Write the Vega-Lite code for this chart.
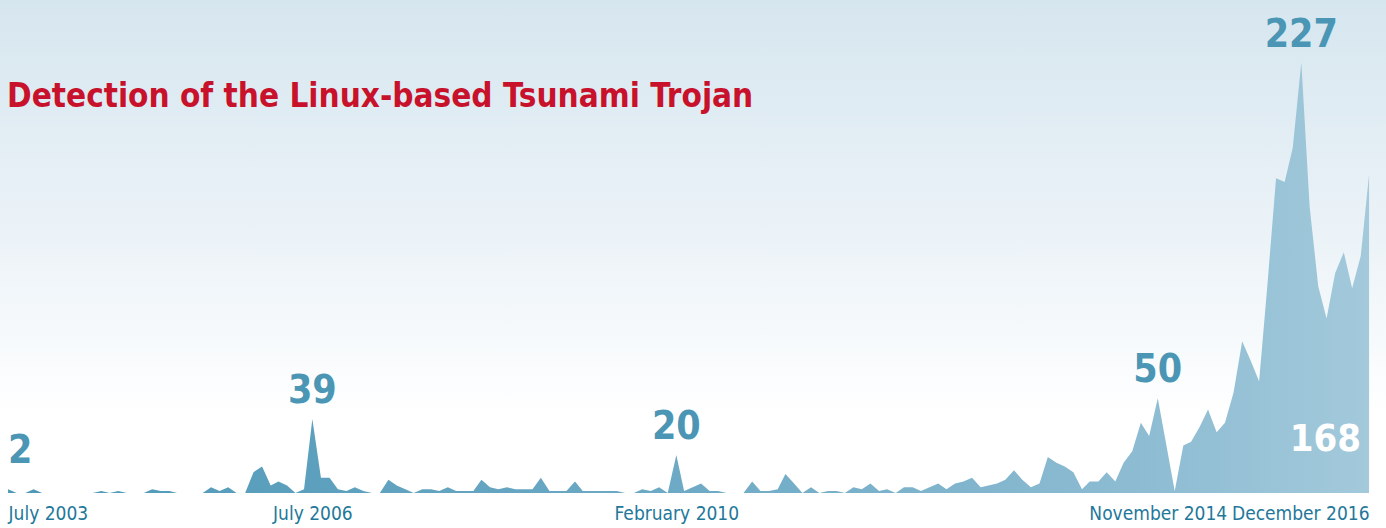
{
  "$schema": "https://vega.github.io/schema/vega-lite/v6.json",
  "width": 1386,
  "height": 493,
  "autosize": {"type": "none"},
  "padding": {"left": 0, "right": 0, "top": 0, "bottom": 35},
  "background": "#ffffff",
  "config": {
    "view": {"stroke": null},
    "font": "DejaVu Sans Condensed, sans-serif"
  },
  "title": {
    "text": "Detection of the Linux-based Tsunami Trojan",
    "anchor": "start",
    "frame": "group",
    "orient": "top",
    "offset": 0,
    "dx": 7,
    "dy": 140,
    "baseline": "alphabetic",
    "font": "DejaVu Sans Condensed, sans-serif",
    "fontWeight": "bold",
    "fontSize": 33,
    "color": "#c8122c"
  },
  "data": {
    "values": [
      {"date": "2003-07-01", "count": 2}, {"date": "2003-08-01", "count": 0}, {"date": "2003-09-01", "count": 0}, {"date": "2003-10-01", "count": 2},
      {"date": "2003-11-01", "count": 0}, {"date": "2003-12-01", "count": 0}, {"date": "2004-01-01", "count": 0}, {"date": "2004-02-01", "count": 0},
      {"date": "2004-03-01", "count": 0}, {"date": "2004-04-01", "count": 0}, {"date": "2004-05-01", "count": 0}, {"date": "2004-06-01", "count": 1},
      {"date": "2004-07-01", "count": 0}, {"date": "2004-08-01", "count": 1}, {"date": "2004-09-01", "count": 0}, {"date": "2004-10-01", "count": 0},
      {"date": "2004-11-01", "count": 0}, {"date": "2004-12-01", "count": 2}, {"date": "2005-01-01", "count": 1}, {"date": "2005-02-01", "count": 1},
      {"date": "2005-03-01", "count": 0}, {"date": "2005-04-01", "count": 0}, {"date": "2005-05-01", "count": 0}, {"date": "2005-06-01", "count": 0},
      {"date": "2005-07-01", "count": 3}, {"date": "2005-08-01", "count": 1}, {"date": "2005-09-01", "count": 3}, {"date": "2005-10-01", "count": 0},
      {"date": "2005-11-01", "count": 0}, {"date": "2005-12-01", "count": 11}, {"date": "2006-01-01", "count": 14}, {"date": "2006-02-01", "count": 4},
      {"date": "2006-03-01", "count": 6}, {"date": "2006-04-01", "count": 4}, {"date": "2006-05-01", "count": 0}, {"date": "2006-06-01", "count": 2},
      {"date": "2006-07-01", "count": 39}, {"date": "2006-08-01", "count": 8}, {"date": "2006-09-01", "count": 8}, {"date": "2006-10-01", "count": 2},
      {"date": "2006-11-01", "count": 1}, {"date": "2006-12-01", "count": 3}, {"date": "2007-01-01", "count": 1}, {"date": "2007-02-01", "count": 0},
      {"date": "2007-03-01", "count": 0}, {"date": "2007-04-01", "count": 7}, {"date": "2007-05-01", "count": 4}, {"date": "2007-06-01", "count": 2},
      {"date": "2007-07-01", "count": 0}, {"date": "2007-08-01", "count": 2}, {"date": "2007-09-01", "count": 2}, {"date": "2007-10-01", "count": 1},
      {"date": "2007-11-01", "count": 3}, {"date": "2007-12-01", "count": 1}, {"date": "2008-01-01", "count": 1}, {"date": "2008-02-01", "count": 1},
      {"date": "2008-03-01", "count": 7}, {"date": "2008-04-01", "count": 3}, {"date": "2008-05-01", "count": 2}, {"date": "2008-06-01", "count": 3},
      {"date": "2008-07-01", "count": 2}, {"date": "2008-08-01", "count": 2}, {"date": "2008-09-01", "count": 2}, {"date": "2008-10-01", "count": 8},
      {"date": "2008-11-01", "count": 1}, {"date": "2008-12-01", "count": 1}, {"date": "2009-01-01", "count": 1}, {"date": "2009-02-01", "count": 6},
      {"date": "2009-03-01", "count": 1}, {"date": "2009-04-01", "count": 1}, {"date": "2009-05-01", "count": 1}, {"date": "2009-06-01", "count": 1},
      {"date": "2009-07-01", "count": 1}, {"date": "2009-08-01", "count": 0}, {"date": "2009-09-01", "count": 0}, {"date": "2009-10-01", "count": 2},
      {"date": "2009-11-01", "count": 1}, {"date": "2009-12-01", "count": 3}, {"date": "2010-01-01", "count": 0}, {"date": "2010-02-01", "count": 20},
      {"date": "2010-03-01", "count": 1}, {"date": "2010-04-01", "count": 3}, {"date": "2010-05-01", "count": 5}, {"date": "2010-06-01", "count": 1},
      {"date": "2010-07-01", "count": 1}, {"date": "2010-08-01", "count": 0}, {"date": "2010-09-01", "count": 0}, {"date": "2010-10-01", "count": 0},
      {"date": "2010-11-01", "count": 6}, {"date": "2010-12-01", "count": 1}, {"date": "2011-01-01", "count": 1}, {"date": "2011-02-01", "count": 2},
      {"date": "2011-03-01", "count": 10}, {"date": "2011-04-01", "count": 5}, {"date": "2011-05-01", "count": 0}, {"date": "2011-06-01", "count": 3},
      {"date": "2011-07-01", "count": 0}, {"date": "2011-08-01", "count": 1}, {"date": "2011-09-01", "count": 1}, {"date": "2011-10-01", "count": 0},
      {"date": "2011-11-01", "count": 3}, {"date": "2011-12-01", "count": 2}, {"date": "2012-01-01", "count": 5}, {"date": "2012-02-01", "count": 1},
      {"date": "2012-03-01", "count": 2}, {"date": "2012-04-01", "count": 0}, {"date": "2012-05-01", "count": 3}, {"date": "2012-06-01", "count": 3},
      {"date": "2012-07-01", "count": 1}, {"date": "2012-08-01", "count": 3}, {"date": "2012-09-01", "count": 5}, {"date": "2012-10-01", "count": 2},
      {"date": "2012-11-01", "count": 5}, {"date": "2012-12-01", "count": 6}, {"date": "2013-01-01", "count": 8}, {"date": "2013-02-01", "count": 3},
      {"date": "2013-03-01", "count": 4}, {"date": "2013-04-01", "count": 5}, {"date": "2013-05-01", "count": 7}, {"date": "2013-06-01", "count": 12},
      {"date": "2013-07-01", "count": 7}, {"date": "2013-08-01", "count": 3}, {"date": "2013-09-01", "count": 5}, {"date": "2013-10-01", "count": 19},
      {"date": "2013-11-01", "count": 16}, {"date": "2013-12-01", "count": 14}, {"date": "2014-01-01", "count": 11}, {"date": "2014-02-01", "count": 2},
      {"date": "2014-03-01", "count": 6}, {"date": "2014-04-01", "count": 6}, {"date": "2014-05-01", "count": 11}, {"date": "2014-06-01", "count": 6},
      {"date": "2014-07-01", "count": 16}, {"date": "2014-08-01", "count": 22}, {"date": "2014-09-01", "count": 37}, {"date": "2014-10-01", "count": 30},
      {"date": "2014-11-01", "count": 50}, {"date": "2014-12-01", "count": 26}, {"date": "2015-01-01", "count": 1}, {"date": "2015-02-01", "count": 25},
      {"date": "2015-03-01", "count": 27}, {"date": "2015-04-01", "count": 35}, {"date": "2015-05-01", "count": 44}, {"date": "2015-06-01", "count": 32},
      {"date": "2015-07-01", "count": 37}, {"date": "2015-08-01", "count": 53}, {"date": "2015-09-01", "count": 80}, {"date": "2015-10-01", "count": 70},
      {"date": "2015-11-01", "count": 59}, {"date": "2015-12-01", "count": 110}, {"date": "2016-01-01", "count": 166}, {"date": "2016-02-01", "count": 164},
      {"date": "2016-03-01", "count": 182}, {"date": "2016-04-01", "count": 227}, {"date": "2016-05-01", "count": 151}, {"date": "2016-06-01", "count": 109},
      {"date": "2016-07-01", "count": 92}, {"date": "2016-08-01", "count": 116}, {"date": "2016-09-01", "count": 127}, {"date": "2016-10-01", "count": 108},
      {"date": "2016-11-01", "count": 125}, {"date": "2016-12-01", "count": 168}
    ]
  },
  "encoding": {
    "x": {
      "field": "date",
      "type": "temporal",
      "scale": {
        "type": "utc",
        "nice": false,
        "domain": [
          {"year": 2003, "month": 6, "date": 2, "utc": true},
          {"year": 2017, "month": 1, "date": 31, "utc": true}
        ]
      },
      "axis": {
        "title": null,
        "domain": false,
        "ticks": false,
        "grid": false,
        "values": [
          {"year": 2003, "month": 7, "date": 1, "utc": true},
          {"year": 2006, "month": 7, "date": 1, "utc": true},
          {"year": 2010, "month": 2, "date": 1, "utc": true},
          {"year": 2014, "month": 11, "date": 1, "utc": true},
          {"year": 2016, "month": 12, "date": 1, "utc": true}
        ],
        "labelExpr": "utcFormat(datum.value, '%B %Y')",
        "labelFlush": 20,
        "labelOverlap": false,
        "labelFont": "DejaVu Sans Condensed, sans-serif",
        "labelFontSize": 19,
        "labelColor": "#23789a",
        "labelPadding": 11
      }
    },
    "y": {
      "field": "count",
      "type": "quantitative",
      "scale": {"domain": [0, 260], "nice": false},
      "axis": null
    }
  },
  "layer": [
    {
      "data": {"values": [{"bg": 1}]},
      "mark": {
        "type": "rect",
        "color": {
          "gradient": "linear",
          "x1": 0, "y1": 0, "x2": 0, "y2": 1,
          "stops": [
            {"offset": 0, "color": "#d6e6ef"},
            {"offset": 0.45, "color": "#eaf2f7"},
            {"offset": 0.85, "color": "#ffffff"},
            {"offset": 1, "color": "#ffffff"}
          ]
        }
      },
      "encoding": {"x": null, "y": null}
    },
    {
      "mark": {
        "type": "area",
        "interpolate": "linear",
        "color": {
          "gradient": "linear",
          "x1": 0, "y1": 0, "x2": 1, "y2": 0,
          "stops": [
            {"offset": 0, "color": "#4e98b7"},
            {"offset": 0.5, "color": "#6eaac5"},
            {"offset": 0.85, "color": "#8fbdd3"},
            {"offset": 1, "color": "#a3c9db"}
          ]
        }
      }
    },
    {
      "transform": [{"filter": "datum.count == 39 || datum.count == 20 || datum.count == 50 || datum.count == 227"}],
      "mark": {
        "type": "text",
        "align": "center",
        "baseline": "alphabetic",
        "dy": -16,
        "font": "DejaVu Sans Condensed, sans-serif",
        "fontWeight": "bold",
        "fontSize": 39,
        "color": "#4a96b4"
      },
      "encoding": {"text": {"field": "count", "type": "quantitative"}}
    },
    {
      "transform": [{"filter": "utcyear(datum.date) == 2003 && utcmonth(datum.date) == 6"}],
      "mark": {
        "type": "text",
        "align": "left",
        "baseline": "alphabetic",
        "dy": -26,
        "font": "DejaVu Sans Condensed, sans-serif",
        "fontWeight": "bold",
        "fontSize": 39,
        "color": "#4a96b4"
      },
      "encoding": {"text": {"field": "count", "type": "quantitative"}}
    },
    {
      "transform": [{"filter": "utcyear(datum.date) == 2016 && utcmonth(datum.date) == 11"}],
      "mark": {
        "type": "text",
        "align": "right",
        "baseline": "alphabetic",
        "dx": -8,
        "font": "DejaVu Sans Condensed, sans-serif",
        "fontWeight": "bold",
        "fontSize": 38,
        "color": "#ffffff"
      },
      "encoding": {
        "y": {"datum": 22, "type": "quantitative"},
        "text": {"field": "count", "type": "quantitative"}
      }
    }
  ]
}
